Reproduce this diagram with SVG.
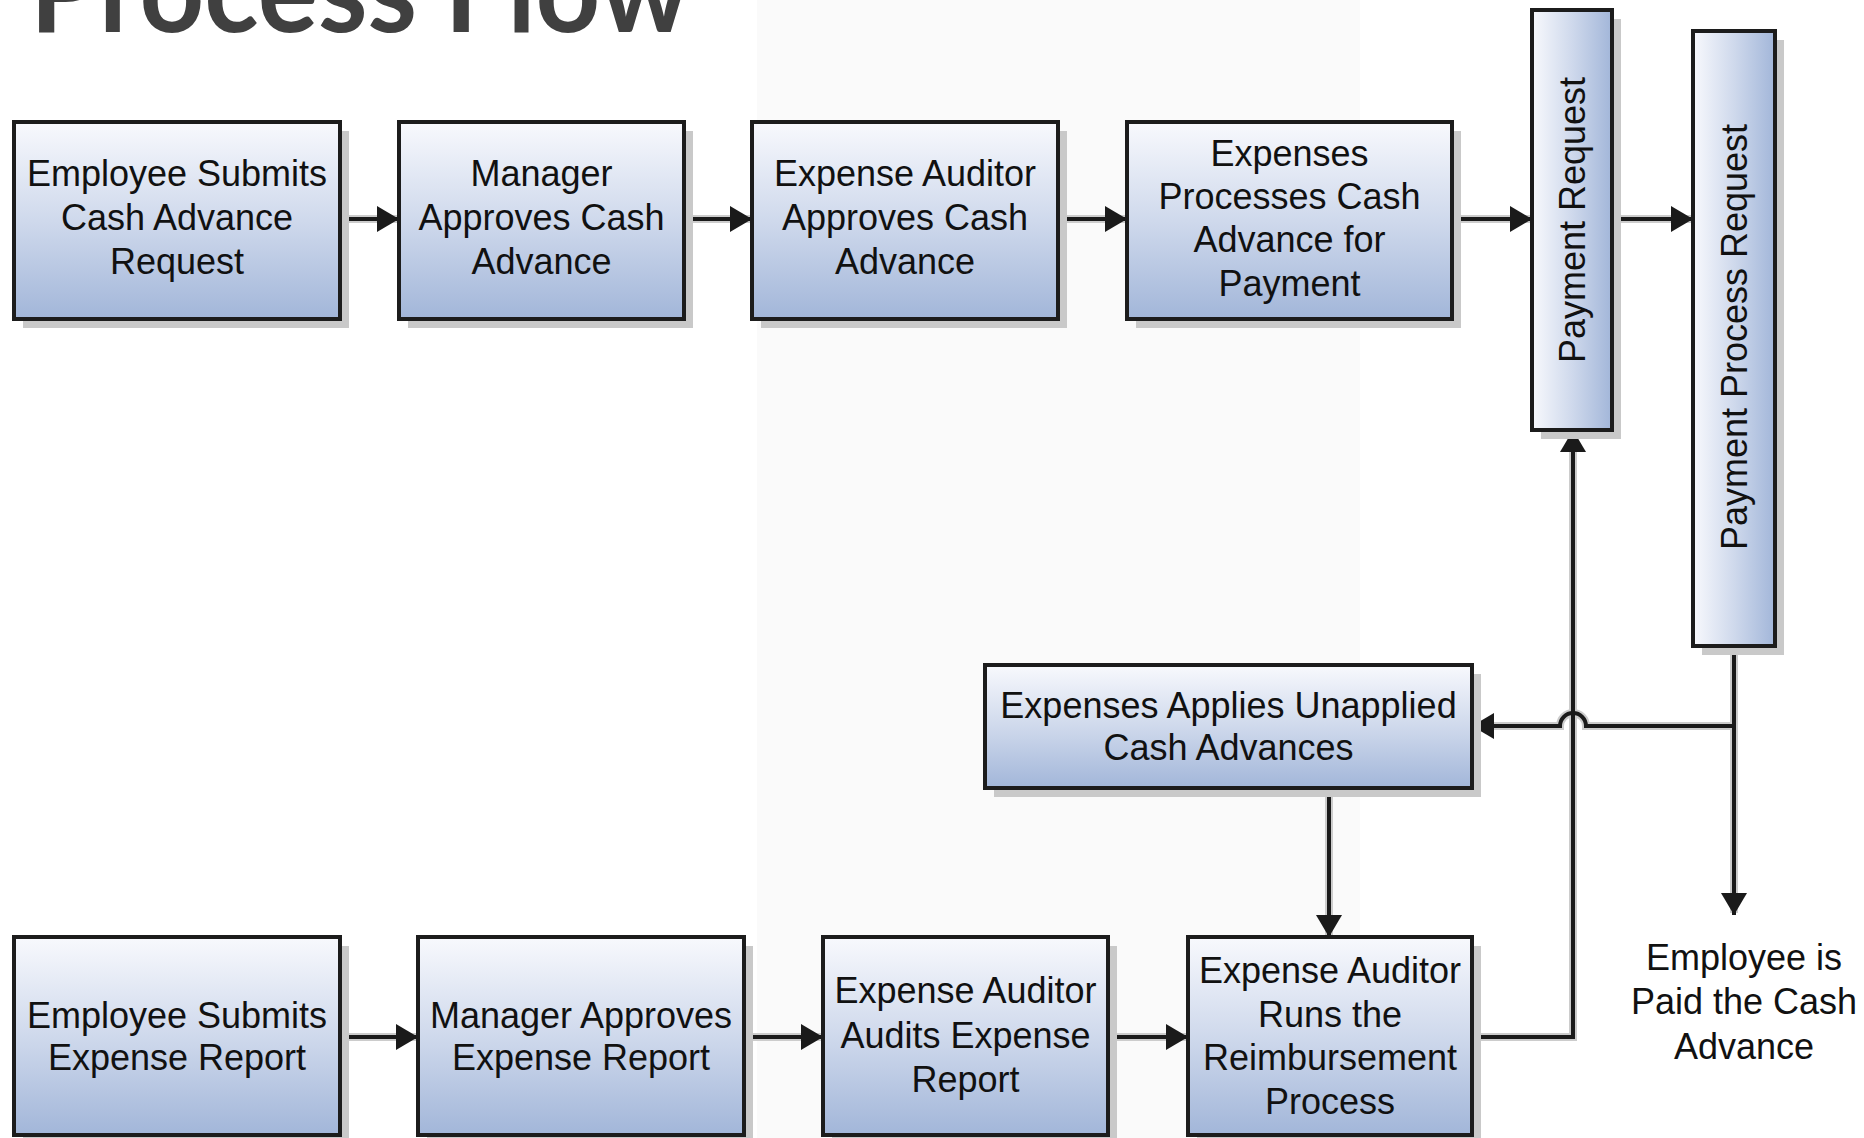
<svg xmlns="http://www.w3.org/2000/svg" width="1864" height="1138" viewBox="0 0 1864 1138">
<defs>
<linearGradient id="gv" x1="0" y1="0" x2="0" y2="1">
<stop offset="0" stop-color="#f8f9fd"/>
<stop offset="0.5" stop-color="#cfd9ec"/>
<stop offset="1" stop-color="#a2b6d9"/>
</linearGradient>
<linearGradient id="gh" x1="0" y1="0" x2="1" y2="0">
<stop offset="0" stop-color="#f8f9fd"/>
<stop offset="0.5" stop-color="#cfd9ec"/>
<stop offset="1" stop-color="#a2b6d9"/>
</linearGradient>
<marker id="ah" markerUnits="userSpaceOnUse" viewBox="0 0 22 26" refX="22" refY="13" markerWidth="22" markerHeight="26" orient="auto">
<path d="M0,0 L22,13 L0,26 z" fill="#1a1a1a"/>
</marker>
</defs>
<style>
.sh{fill:#c9c9c9}
.bx{fill:url(#gv);stroke:#1c1c1c;stroke-width:4}
.bxh{fill:url(#gh);stroke:#1c1c1c;stroke-width:4}
.t{font-family:"Liberation Sans",Arial,sans-serif;font-size:36px;fill:#111;text-anchor:middle}
.halo{fill:none;stroke:#cccccc;stroke-width:8}
.ln{fill:none;stroke:#1a1a1a;stroke-width:4;marker-end:url(#ah)}
</style>
<rect x="0" y="0" width="1864" height="1138" fill="#ffffff"/>
<rect x="757" y="0" width="603" height="1138" fill="#fafafa"/>
<text x="30" y="32" font-family="Lato,'Liberation Sans',sans-serif" font-weight="bold" font-size="118" fill="#404040" textLength="660" lengthAdjust="spacingAndGlyphs">Process Flow</text>

<g id="connectors">
<path class="halo" d="M340,219 H397 M684,219 H750 M1058,219 H1125 M1452,219 H1530 M1612,219 H1691 M340,1037 H416 M744,1037 H821 M1108,1037 H1186 M1734,646 V913 M1734,726 H1586 A13,13 0 0 0 1560,726 H1474 M1472,1037 H1573 V432 M1329,788 V935"/>
<path class="ln" d="M340,219 H399"/>
<path class="ln" d="M684,219 H752"/>
<path class="ln" d="M1058,219 H1127"/>
<path class="ln" d="M1452,219 H1532"/>
<path class="ln" d="M1612,219 H1693"/>
<path class="ln" d="M340,1037 H418"/>
<path class="ln" d="M744,1037 H823"/>
<path class="ln" d="M1108,1037 H1188"/>
<path class="ln" d="M1734,646 V915"/>
<path class="ln" d="M1734,726 H1586 A13,13 0 0 0 1560,726 H1472"/>
<path class="ln" d="M1472,1037 H1573 V430"/>
<path class="ln" d="M1329,788 V937"/>
</g>

<g id="n1">
<rect class="sh" x="23" y="131" width="326" height="197"/>
<rect class="bx" x="14" y="122" width="326" height="197"/>
<text class="t" x="177" y="186">Employee Submits</text>
<text class="t" x="177" y="230">Cash Advance</text>
<text class="t" x="177" y="274">Request</text>
</g>
<g id="n2">
<rect class="sh" x="408" y="131" width="285" height="197"/>
<rect class="bx" x="399" y="122" width="285" height="197"/>
<text class="t" x="541.5" y="186">Manager</text>
<text class="t" x="541.5" y="230">Approves Cash</text>
<text class="t" x="541.5" y="274">Advance</text>
</g>
<g id="n3">
<rect class="sh" x="761" y="131" width="306" height="197"/>
<rect class="bx" x="752" y="122" width="306" height="197"/>
<text class="t" x="905" y="186">Expense Auditor</text>
<text class="t" x="905" y="230">Approves Cash</text>
<text class="t" x="905" y="274">Advance</text>
</g>
<g id="n4">
<rect class="sh" x="1136" y="131" width="325" height="197"/>
<rect class="bx" x="1127" y="122" width="325" height="197"/>
<text class="t" x="1289.5" y="166">Expenses</text>
<text class="t" x="1289.5" y="209">Processes Cash</text>
<text class="t" x="1289.5" y="252">Advance for</text>
<text class="t" x="1289.5" y="296">Payment</text>
</g>
<g id="n5">
<rect class="sh" x="1541" y="19" width="80" height="420"/>
<rect class="bxh" x="1532" y="10" width="80" height="420"/>
<text class="t" transform="translate(1585,220) rotate(-90)" x="0" y="0">Payment Request</text>
</g>
<g id="n6">
<rect class="sh" x="1702" y="40" width="82" height="615"/>
<rect class="bxh" x="1693" y="31" width="82" height="615"/>
<text class="t" transform="translate(1747,337) rotate(-90)" x="0" y="0">Payment Process Request</text>
</g>
<g id="n7">
<rect class="sh" x="994" y="674" width="487" height="123"/>
<rect class="bx" x="985" y="665" width="487" height="123"/>
<text class="t" x="1228.5" y="718">Expenses Applies Unapplied</text>
<text class="t" x="1228.5" y="760">Cash Advances</text>
</g>
<g id="n8">
<rect class="sh" x="23" y="946" width="326" height="198"/>
<rect class="bx" x="14" y="937" width="326" height="198"/>
<text class="t" x="177" y="1028">Employee Submits</text>
<text class="t" x="177" y="1070">Expense Report</text>
</g>
<g id="n9">
<rect class="sh" x="427" y="946" width="326" height="198"/>
<rect class="bx" x="418" y="937" width="326" height="198"/>
<text class="t" x="581" y="1028">Manager Approves</text>
<text class="t" x="581" y="1070">Expense Report</text>
</g>
<g id="n10">
<rect class="sh" x="832" y="946" width="285" height="198"/>
<rect class="bx" x="823" y="937" width="285" height="198"/>
<text class="t" x="965.5" y="1003">Expense Auditor</text>
<text class="t" x="965.5" y="1048">Audits Expense</text>
<text class="t" x="965.5" y="1092">Report</text>
</g>
<g id="n11">
<rect class="sh" x="1197" y="946" width="284" height="198"/>
<rect class="bx" x="1188" y="937" width="284" height="198"/>
<text class="t" x="1330" y="983">Expense Auditor</text>
<text class="t" x="1330" y="1027">Runs the</text>
<text class="t" x="1330" y="1070">Reimbursement</text>
<text class="t" x="1330" y="1114">Process</text>
</g>
<g id="n12">
<text class="t" x="1744" y="970">Employee is</text>
<text class="t" x="1744" y="1014">Paid the Cash</text>
<text class="t" x="1744" y="1059">Advance</text>
</g>
</svg>
